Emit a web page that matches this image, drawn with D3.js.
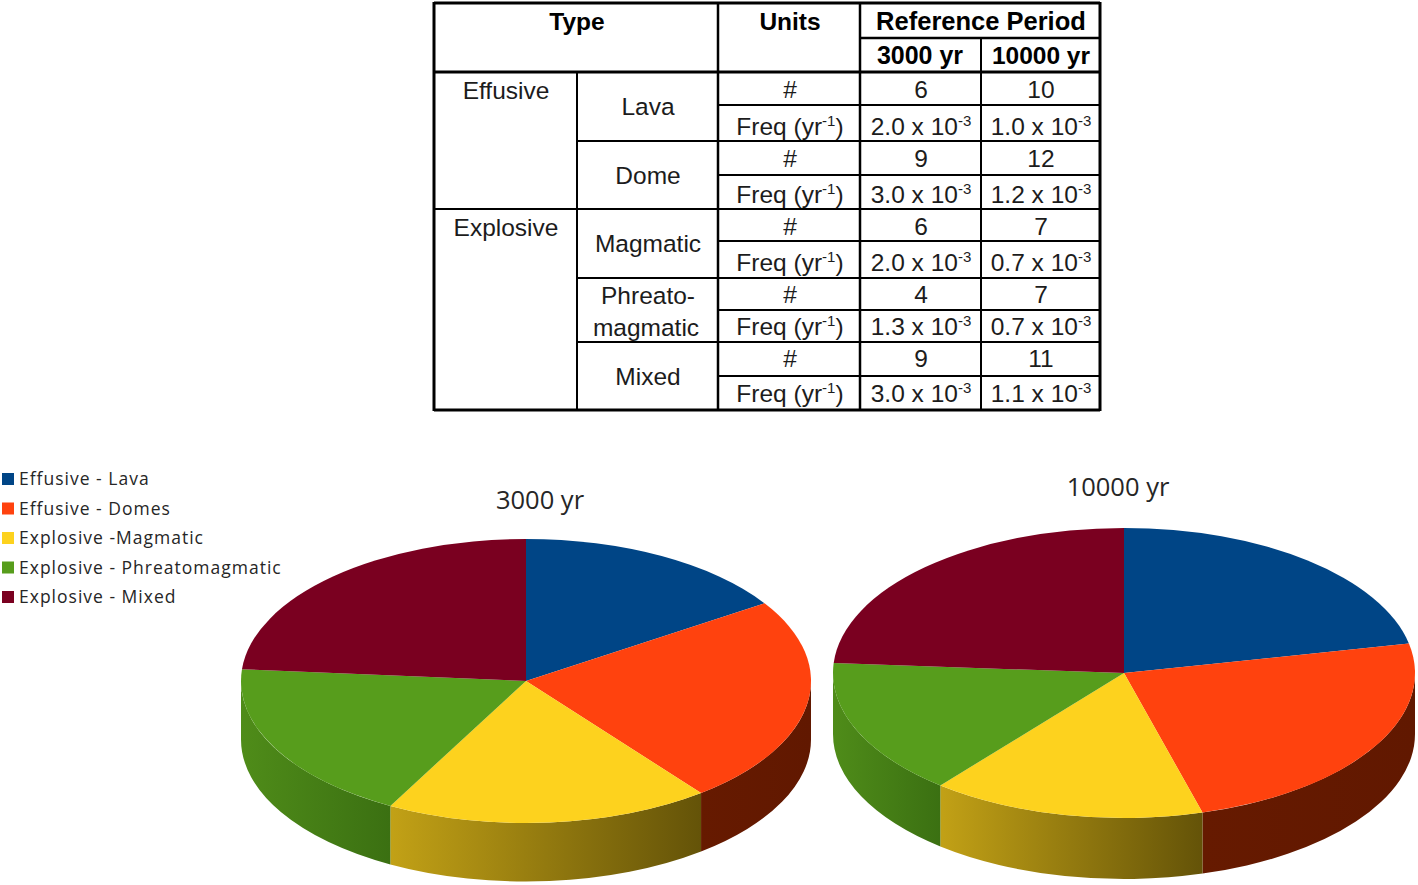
<!DOCTYPE html>
<html><head><meta charset="utf-8">
<script src="https://cdnjs.cloudflare.com/ajax/libs/d3/7.8.5/d3.min.js"></script>
<style>html,body{margin:0;padding:0;background:#fff}svg{display:block}</style>
</head><body><svg id="c" width="1418" height="885"></svg>
<script>
// ---------- data ----------
const categories = ["Effusive - Lava","Effusive - Domes","Explosive -Magmatic","Explosive - Phreatomagmatic","Explosive - Mixed"];
const topColors = ["#004586","#ff420e","#fdd21e","#579d1c","#7a0020"];
const sideStart = ["#002a52","#661a00","#c2a116","#4f8c19","#4d0014"];
const sideEnd   = ["#002a52","#611800","#645308","#3b7012","#4d0014"];
const values3000 = [6,9,7,7,9];
const values10000 = [10,11,7,7,11];
const pieTitles = ["3000 yr","10000 yr"];

const typeGroups = ["Effusive","Explosive"];
const subTypes = ["Lava","Dome","Magmatic","Phreato-|magmatic","Mixed"];
const counts3000 = ["6","9","6","4","9"];
const counts10000 = ["10","12","7","7","11"];
const freq3000 = ["2.0","3.0","2.0","1.3","3.0"];
const freq10000 = ["1.0","1.2","0.7","0.7","1.1"];

// ---------- table layout ----------
const svg = d3.select("#c");
const ty = [72,105,141,175,209,241,278,310,342,376,410];
const tTop = 3, tSub = 38;
const tableFont = "'Liberation Sans',Arial,sans-serif";
const T = svg.append("g").attr("font-family",tableFont).attr("font-size",24.5).attr("fill","#1c1c1c").attr("text-anchor","middle");
function line(x1,y1,x2,y2,w){T.append("line").attr("x1",x1).attr("y1",y1).attr("x2",x2).attr("y2",y2).attr("stroke","#000").attr("stroke-width",w);}
function label(x,y,s,bold,size){const t=T.append("text").attr("x",x).attr("y",y).attr("font-weight",bold?"bold":"normal").attr("fill",bold?"#000":"#1c1c1c").text(s); if(size) t.attr("font-size",size); return t;}
function sup(x,y,before,exp,after){
  const t=T.append("text").attr("x",x).attr("y",y);
  t.append("tspan").text(before);
  t.append("tspan").attr("dy",-9).attr("font-size",15).text(exp);
  if(after) t.append("tspan").attr("dy",9).text(after);
}
// borders
line(434,tTop,1100,tTop,3); line(434,410,1100,410,3); line(434,2,434,411,3); line(1100,2,1100,411,3);
line(434,ty[0],1100,ty[0],3);
line(860,tSub,1100,tSub,2.5);
line(718,tTop,718,410,2.5); line(860,tTop,860,410,2.5);
line(981,tSub,981,410,2);
line(577,ty[0],577,410,2);
line(434,ty[4],718,ty[4],2);
[ty[2],ty[6],ty[8]].forEach(y=>line(577,y,718,y,2));
ty.slice(1,-1).forEach(y=>line(718,y,1100,y,2));

label(577,30,"Type",true); label(790,30,"Units",true); label(981,30,"Reference Period",true,25.5);
label(920,64,"3000 yr",true,25); label(1041,64,"10000 yr",true);
label(506,99,typeGroups[0]); label(506,236,typeGroups[1]);

const subY = [[115],[184],[252],[304,336],[385]];
subTypes.forEach((s,i)=>{
  s.split("|").forEach((p,j)=>label(i===3?(j===0?648:646):648,subY[i][j],p));
  const b1=[98,167,235,303,367][i], b2=[135,203,271,335,402][i];
  label(790,b1,"#"); label(921,b1,counts3000[i]); label(1041,b1,counts10000[i]);
  sup(790,b2,"Freq (yr","-1",")");
  sup(921,b2,freq3000[i]+" x 10","-3");
  sup(1041,b2,freq10000[i]+" x 10","-3");
});

// ---------- legend ----------
const legendY = d3.scalePoint().domain(categories).range([479,597]);
const L = svg.append("g");
categories.forEach((c,i)=>{
  L.append("rect").attr("x",2).attr("y",legendY(c)-6).attr("width",12).attr("height",12).attr("fill",topColors[i]);
  L.append("text").attr("x",19).attr("y",legendY(c)+6).attr("font-family","'Open Sans',sans-serif")
   .attr("font-size",17.5).attr("fill","#262626").attr("letter-spacing",1).text(c);
});

// ---------- pies ----------
const defs = svg.append("defs");
const pieGen = d3.pie().sort(null).value(d=>d).startAngle(0).endAngle(2*Math.PI);
function drawPie(values,cx,cy,rx,ry,depth,title,tXpos,tYpos,id){
  const g = svg.append("g");
  const arcs = pieGen(values);
  const px = a=>cx+rx*Math.sin(a), py = a=>cy-ry*Math.cos(a);
  // side wall
  arcs.forEach((d,i)=>{
    const a0=Math.max(d.startAngle,Math.PI/2), a1=Math.min(d.endAngle,3*Math.PI/2);
    if(a1<=a0) return;
    const gid=id+"s"+i;
    const gr=defs.append("linearGradient").attr("id",gid).attr("gradientUnits","userSpaceOnUse")
      .attr("x1",Math.min(px(a0),px(a1))).attr("x2",Math.max(px(a0),px(a1))).attr("y1",0).attr("y2",0);
    gr.append("stop").attr("offset",0).attr("stop-color",sideStart[i]);
    gr.append("stop").attr("offset",1).attr("stop-color",sideEnd[i]);
    const path=`M${px(a0)},${py(a0)}A${rx},${ry} 0 0 1 ${px(a1)},${py(a1)}L${px(a1)},${py(a1)+depth}A${rx},${ry} 0 0 0 ${px(a0)},${py(a0)+depth}Z`;
    g.append("path").attr("d",path).attr("fill",`url(#${gid})`);
  });
  // top
  const arc=d3.arc().innerRadius(0).outerRadius(rx);
  const top=g.append("g").attr("transform",`translate(${cx},${cy}) scale(1,${ry/rx})`);
  arcs.forEach((d,i)=>top.append("path").attr("d",arc(d)).attr("fill",topColors[i]));
  svg.append("text").attr("x",tXpos).attr("y",tYpos).attr("text-anchor","middle")
    .attr("font-family","'Open Sans',sans-serif").attr("font-size",25.5).attr("fill","#262626").text(title);
}
drawPie(values3000,526,681,285,142,58.5,pieTitles[0],540,509,"a");
drawPie(values10000,1124,673,291,145,61,pieTitles[1],1118,496,"b");
</script></body></html>
